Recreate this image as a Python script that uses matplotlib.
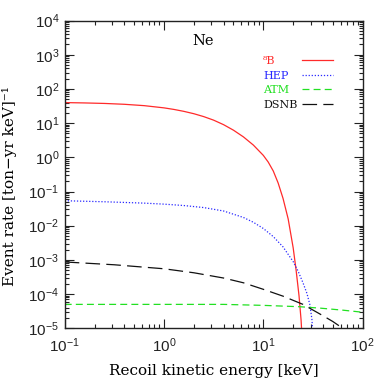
import numpy as np
import matplotlib
matplotlib.use("Agg")
import matplotlib.pyplot as plt
from matplotlib.ticker import LogLocator, NullFormatter, FuncFormatter

# ---- data (energies in keV, rates in events/(ton-yr keV)) ----
b8_E = [0.1, 0.158, 0.251, 0.398, 0.631, 1.0, 1.26, 1.58, 2.0, 2.51, 3.16, 3.98, 5.01,
        6.31, 7.94, 10.0, 11.2, 12.6, 14.1, 15.8, 17.8, 20.0, 21.4, 22.9, 24.0, 24.5]
b8_rate = [39.8, 38.9, 37.6, 35.5, 32.4, 27.9, 25.1, 22.1, 18.8, 15.5, 12.2, 9.0, 6.2,
           3.95, 2.28, 1.14, 0.728, 0.398, 0.178, 0.063, 0.0158, 2.24e-3, 5.0e-4,
           8.9e-5, 1.78e-5, 6.3e-6]

hep_E = [0.1, 0.158, 0.251, 0.398, 0.631, 1.0, 1.58, 2.51, 3.98, 6.31, 7.94, 10.0,
         12.6, 15.8, 17.8, 20.0, 22.4, 25.1, 27.5, 29.5, 30.9, 31.6]
hep_rate = [0.0537, 0.0519, 0.0501, 0.0479, 0.0457, 0.0427, 0.0389, 0.0339, 0.0269,
            0.0174, 0.0126, 8.3e-3, 4.8e-3, 2.40e-3, 1.45e-3, 8.9e-4, 4.7e-4, 2.14e-4,
            1.05e-4, 4.8e-5, 1.78e-5, 6.3e-6]

atm_E = [0.1, 1.0, 3.98, 10.0, 23.4, 37.2, 63.1, 100.0]
atm_rate = [5.0e-5, 5.0e-5, 5.0e-5, 4.68e-5, 4.27e-5, 3.89e-5, 3.39e-5, 2.95e-5]

dsnb_E = [0.1, 0.316, 1.0, 2.0, 3.98, 6.31, 10.0, 15.8, 25.1, 39.8, 50.1, 63.1, 70.8]
dsnb_rate = [8.7e-4, 7.2e-4, 5.5e-4, 4.2e-4, 2.95e-4, 2.14e-4, 1.38e-4, 8.7e-5,
             5.0e-5, 2.34e-5, 1.58e-5, 1.0e-5, 7.9e-6]

series_labels = ["\u2078B", "HEP", "ATM", "DSNB"]
series_colors = ["#ff2a2a", "#2a2aff", "#22e022", "#111111"]

plt.rcParams['lines.scale_dashes'] = False
plt.rcParams['mathtext.fontset'] = 'custom'
plt.rcParams['mathtext.rm'] = 'Liberation Sans'
plt.rcParams['mathtext.it'] = 'Liberation Sans'

fig = plt.figure(figsize=(3.82, 3.82), dpi=100)
ax = fig.add_axes([0.1694, 0.1406, 0.7798, 0.8057])

l1, = ax.plot(b8_E, b8_rate, color=series_colors[0], lw=0.9, ls='-')
l2, = ax.plot(hep_E, hep_rate, color=series_colors[1], lw=0.9, ls=(0, (0.9, 1.3)))
l3, = ax.plot(atm_E, atm_rate, color=series_colors[2], lw=0.9, ls=(0, (5, 3)))
l4, = ax.plot(dsnb_E, dsnb_rate, color=series_colors[3], lw=0.9, ls=(0, (10.5, 4.5)))

ax.set_xscale('log')
ax.set_yscale('log')
ax.set_xlim(0.1, 100)
ax.set_ylim(1e-5, 1e4)

def fmt(v, pos):
    e = int(round(np.log10(v)))
    return r"$10^{%d}$" % e

ax.xaxis.set_major_locator(LogLocator(base=10, numticks=20))
ax.yaxis.set_major_locator(LogLocator(base=10, numticks=20))
ax.xaxis.set_minor_locator(LogLocator(base=10, subs=np.arange(2, 10), numticks=50))
ax.yaxis.set_minor_locator(LogLocator(base=10, subs=np.arange(2, 10), numticks=50))
ax.xaxis.set_major_formatter(FuncFormatter(fmt))
ax.yaxis.set_major_formatter(FuncFormatter(fmt))
ax.xaxis.set_minor_formatter(NullFormatter())
ax.yaxis.set_minor_formatter(NullFormatter())

ax.tick_params(which='both', direction='in', top=True, right=True, width=0.8, colors='#222222')
ax.tick_params(which='major', length=6.5, labelsize=11, pad=4)
ax.tick_params(axis='x', which='major', pad=6)
ax.tick_params(which='minor', length=3.2)
for s in ax.spines.values():
    s.set_linewidth(1.0)
    s.set_color('#222222')

ax.set_xlabel("Recoil kinetic energy [keV]", family='DejaVu Serif', fontsize=11, labelpad=6)
ax.set_ylabel("Event rate [ton\u2212yr keV]\u207b\u00b9", family='DejaVu Serif', fontsize=11)
ax.yaxis.set_label_coords(-0.16, 0.462)

ax.text(0.427, 0.935, "Ne", transform=ax.transAxes, family='DejaVu Serif', fontsize=10.5,
        ha='left', va='center')

lines = [l1, l2, l3, l4]
prop = {'family': 'DejaVu Serif', 'size': 8}
# handle column (line samples)
leg_h = ax.legend(lines, [" "] * 4, loc='upper left', bbox_to_anchor=(0.797, 0.884),
                  frameon=False, prop=prop, handlelength=2.75, handletextpad=0,
                  labelspacing=0.4, borderpad=0, borderaxespad=0)
ax.add_artist(leg_h)
# text column (left aligned labels)
leg_t = ax.legend(lines, series_labels, loc='upper left', bbox_to_anchor=(0.666, 0.884),
                  frameon=False, prop=prop, handlelength=0, handletextpad=0,
                  labelspacing=0.4, borderpad=0, borderaxespad=0, labelcolor=series_colors)
for h in leg_t.legend_handles:
    h.set_visible(False)

fig.savefig("out.png", dpi=100)
